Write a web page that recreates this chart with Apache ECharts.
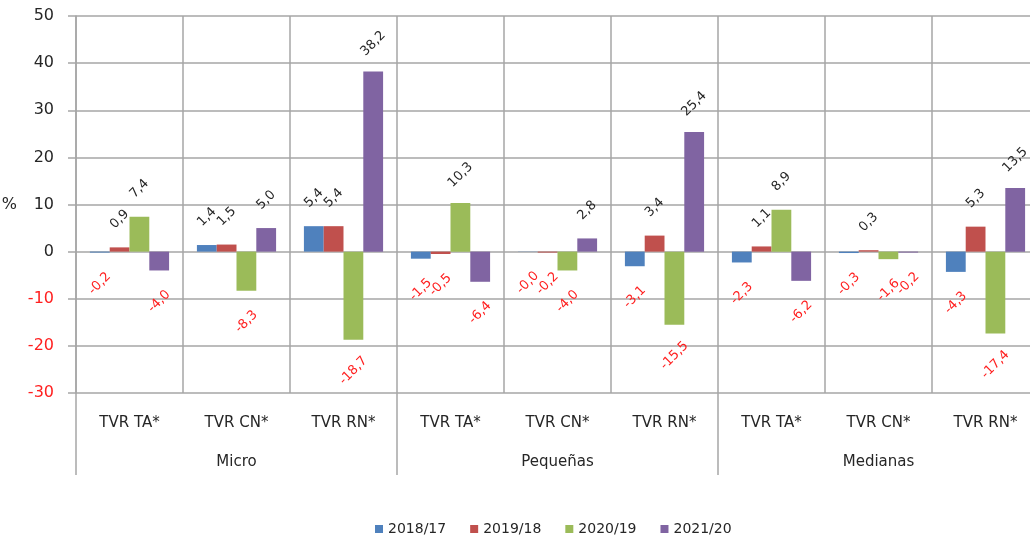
<!DOCTYPE html>
<html>
<head>
<meta charset="utf-8">
<script src="https://cdn.jsdelivr.net/npm/echarts@6/dist/echarts.min.js"></script>
<style>
  html, body { margin: 0; padding: 0; background: #fff; }
  #chart { width: 1030px; height: 536px; }
</style>
</head>
<body>
<div id="chart"></div>
<script>
// categorias (indicador por tamaño de empresa)
var categories = ['TVR TA*', 'TVR CN*', 'TVR RN*', 'TVR TA*', 'TVR CN*', 'TVR RN*', 'TVR TA*', 'TVR CN*', 'TVR RN*']
var groups = ['Micro', 'Pequeñas', 'Medianas']
var seriesNames = ['2018/17', '2019/18', '2020/19', '2021/20']

// valores en %
var v2018 = [-0.2, 1.4, 5.4, -1.5, -0.04, -3.1, -2.3, -0.3, -4.3]
var v2019 = [0.9, 1.5, 5.4, -0.5, -0.2, 3.4, 1.1, 0.3, 5.3]
var v2020 = [7.4, -8.3, -18.7, 10.3, -4.0, -15.5, 8.9, -1.6, -17.4]
var v2021 = [-4.0, 5.0, 38.2, -6.4, 2.8, 25.4, -6.2, -0.2, 13.5]

var colors = ['#4f81bd', '#c0504d', '#9bbb59', '#8064a2']
var gridColor = '#a6a6a6'
var font = 'DejaVu Sans'

var myChart = echarts.init(document.getElementById('chart'))

function fmt(v) {
    return v.toFixed(1).replace('.', ',')
}

function buildSeries(name, values, color) {
    return {
        name: name,
        type: 'bar',
        barGap: '0%',
        barCategoryGap: '26%',
        itemStyle: { color: color },
        data: values.map(function (v) {
            var neg = v < 0
            return {
                value: v,
                label: {
                    show: true,
                    position: neg ? 'bottom' : 'top',
                    distance: neg ? 31 : 28,
                    rotate: 45,
                    align: 'center',
                    verticalAlign: 'middle',
                    color: neg ? '#ff2020' : '#262626',
                    fontFamily: font,
                    fontSize: 13,
                    formatter: function (p) { return fmt(p.value) }
                }
            }
        })
    }
}

var option = {
    animation: false,
    // el gráfico original está recortado por la derecha
    grid: { left: 76, top: 16, width: 963, bottom: 143, outerBoundsMode: 'none', containLabel: false },
    legend: {
        data: seriesNames,
        top: 517,
        left: 370,
        icon: 'rect',
        itemWidth: 8,
        itemHeight: 8,
        itemGap: 24,
        textStyle: { fontFamily: font, fontSize: 14, color: '#262626' }
    },
    xAxis: [
        {
            type: 'category',
            data: categories,
            position: 'bottom',
            axisLine: { show: false, onZero: false },
            axisTick: { show: false },
            splitLine: { show: true, interval: 0, lineStyle: { color: gridColor, width: 1.5 } },
            axisLabel: { interval: 0, margin: 23, fontFamily: font, fontSize: 15, color: '#262626' }
        },
        {
            type: 'category',
            data: groups,
            position: 'bottom',
            offset: 0,
            axisLine: { show: false, onZero: false },
            axisTick: { show: true, interval: 0, length: 82, lineStyle: { color: gridColor, width: 1.5 } },
            splitLine: { show: false },
            axisLabel: { interval: 0, margin: 62, fontFamily: font, fontSize: 15, color: '#262626' }
        }
    ],
    yAxis: {
        type: 'value',
        min: -30,
        max: 50,
        interval: 10,
        name: '%',
        nameLocation: 'middle',
        nameRotate: 0,
        nameGap: 59,
        nameTextStyle: { fontFamily: font, fontSize: 16, color: '#262626' },
        axisLine: { show: true, lineStyle: { color: gridColor, width: 1.5 } },
        axisTick: { show: true, length: 8, lineStyle: { color: gridColor, width: 1.5 } },
        splitLine: { show: true, lineStyle: { color: gridColor, width: 1.5 } },
        axisLabel: {
            margin: 22,
            fontFamily: font,
            fontSize: 16,
            color: function (value) { return value < 0 ? '#ff2020' : '#262626' }
        }
    },
    series: [
        buildSeries(seriesNames[0], v2018, colors[0]),
        buildSeries(seriesNames[1], v2019, colors[1]),
        buildSeries(seriesNames[2], v2020, colors[2]),
        buildSeries(seriesNames[3], v2021, colors[3])
    ]
}

myChart.setOption(option)
</script>
</body>
</html>
